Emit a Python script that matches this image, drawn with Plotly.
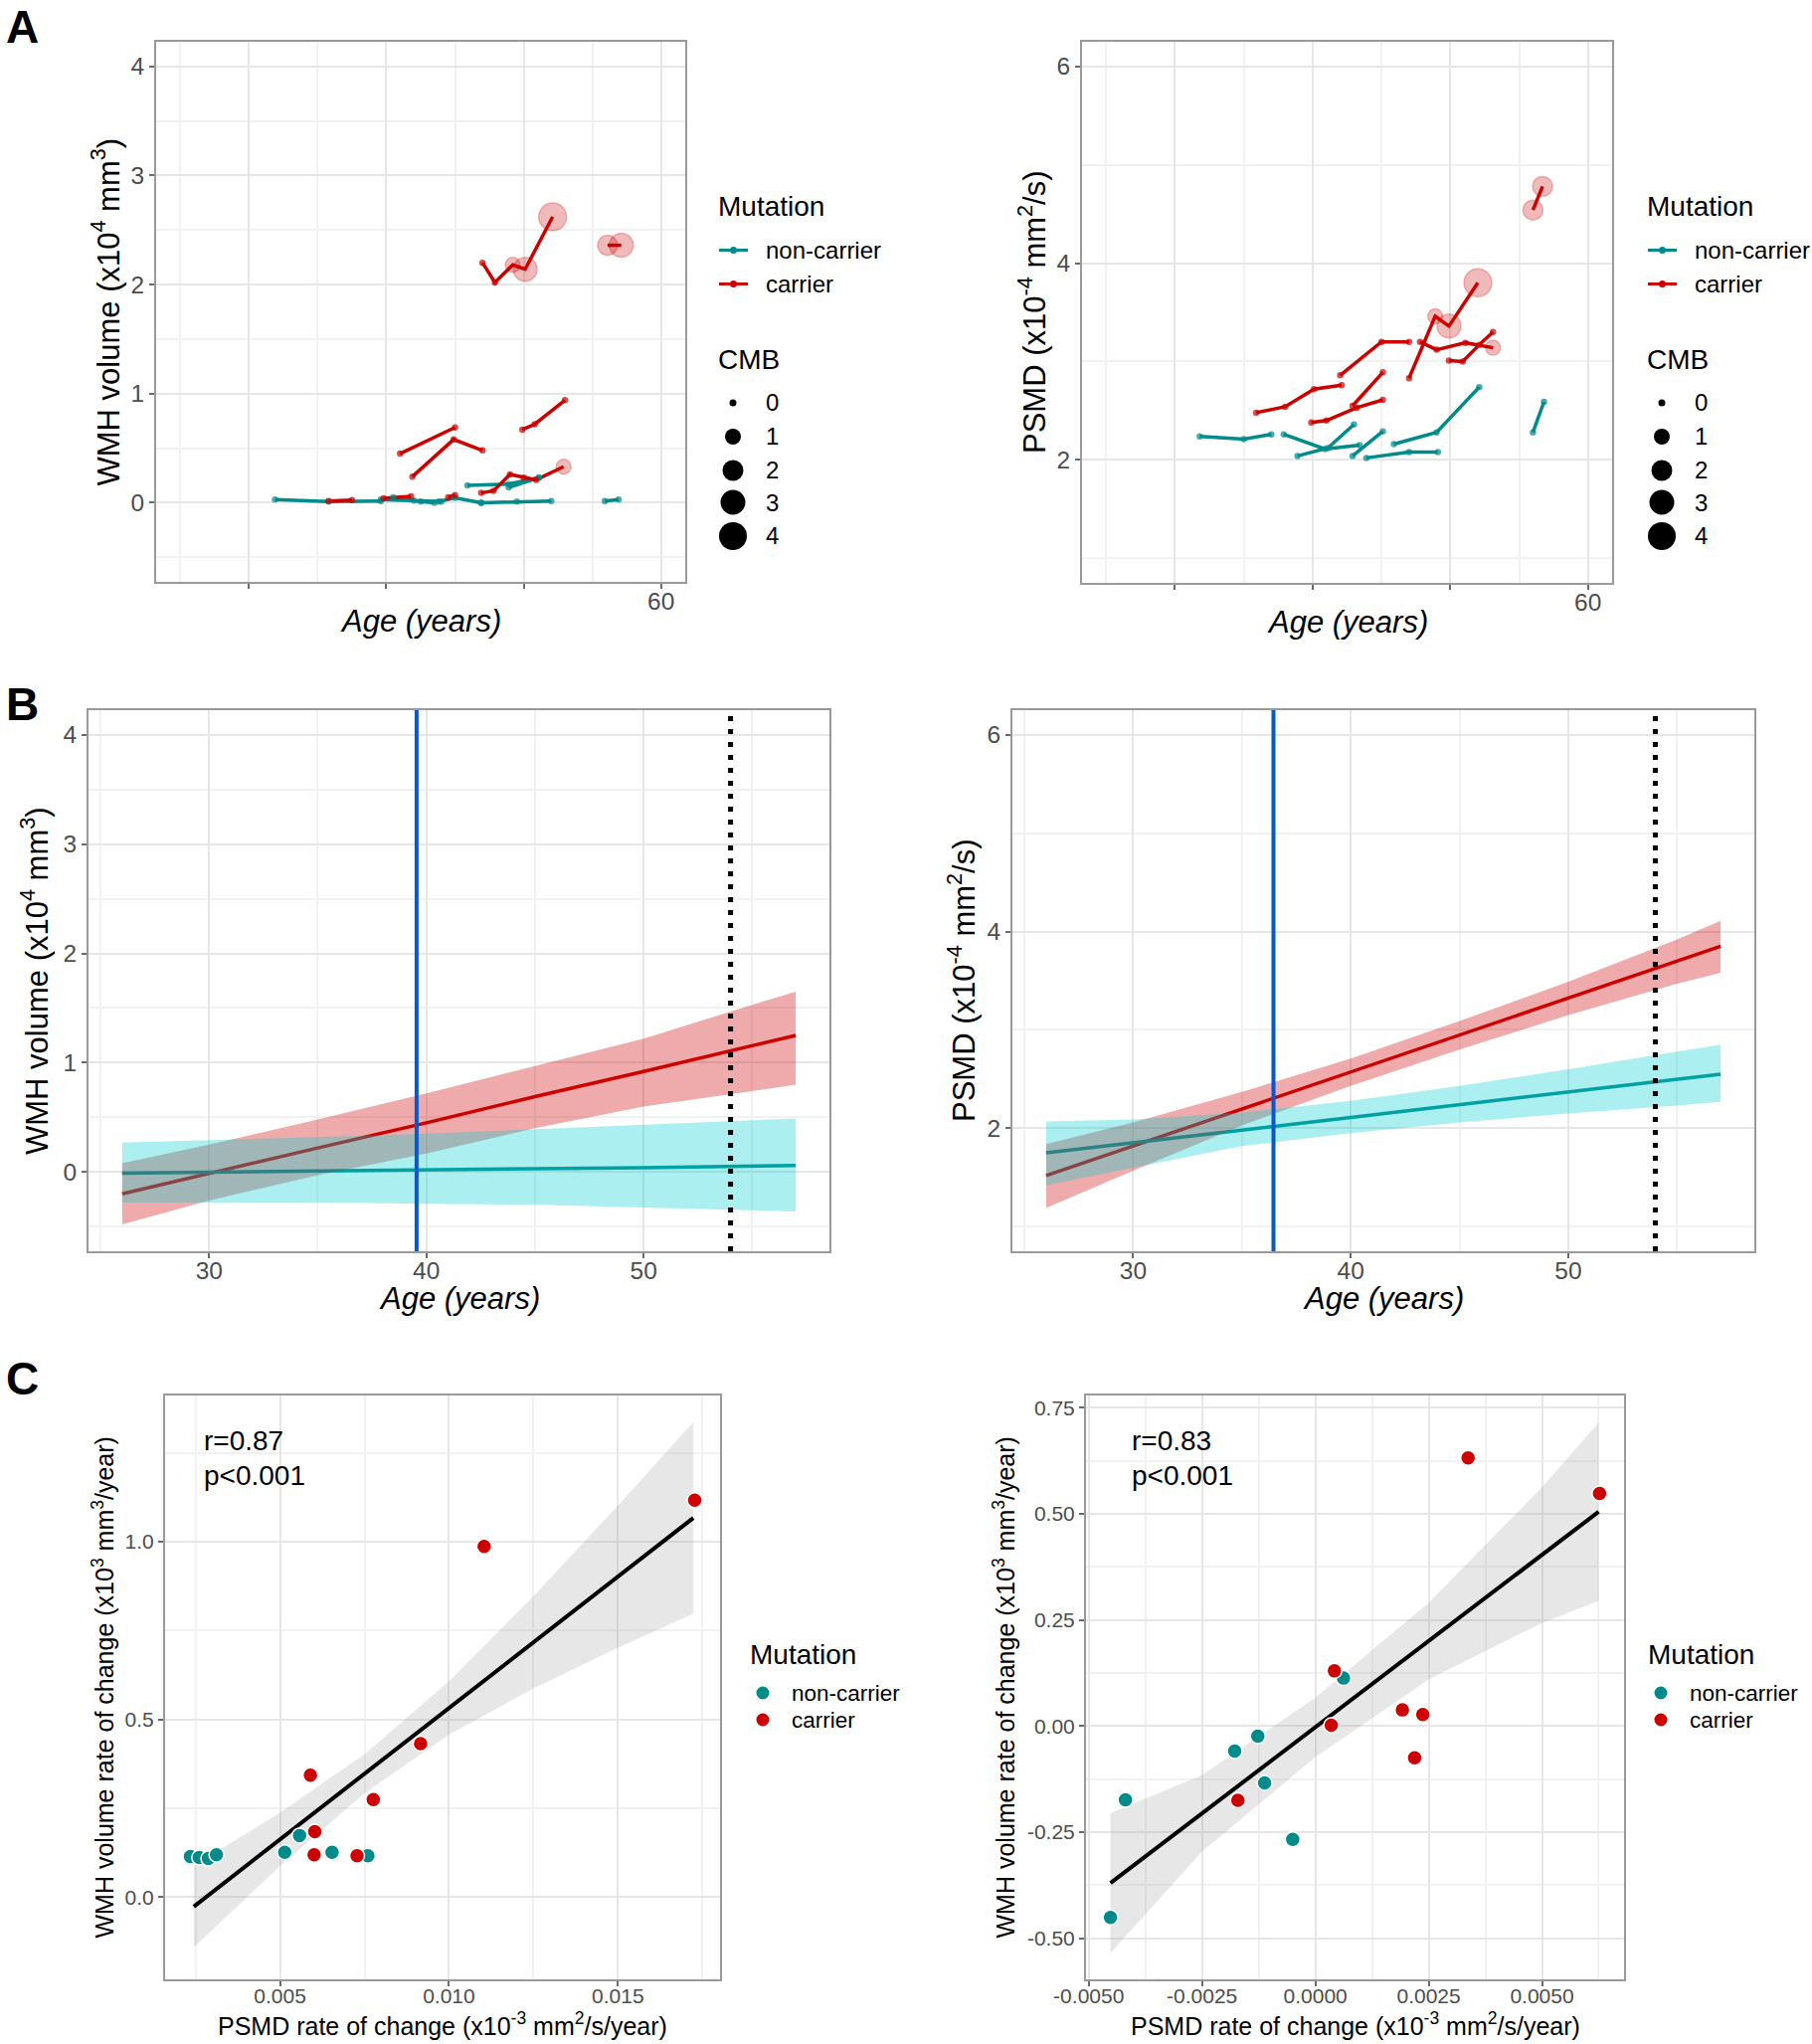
import plotly.graph_objects as go

# ======================= DATA =======================
mutation_labels = ["non-carrier", "carrier"]
cmb_levels = [0, 1, 2, 3, 4]

# ---- Panel A, left: WMH volume (x10^4 mm^3), one entry per subject ----
wmh_subj_mutation = [0, 0, 0, 0, 0, 0, 0, 0, 1, 1, 1, 1, 1, 1, 1, 1, 1]
wmh_subj_age = [
    [31.9, 35.8, 39.6], [39.6, 42.0, 44.0], [40.5, 42.5, 43.5], [43.8, 45.0, 46.9],
    [46.9, 49.5, 52.0], [45.9, 48.9, 51.1], [48.9, 51.1], [55.9, 56.9],
    [35.8, 37.5], [39.8, 41.8], [44.5, 45.0], [41.0, 45.0], [41.9, 44.9, 47.0],
    [49.9, 50.8, 53.0], [46.9, 47.8, 49.0, 50.0, 50.9, 52.9],
    [47.0, 47.9, 49.2, 50.1, 52.1], [56.1, 57.1],
]
wmh_subj_value = [
    [0.03, 0.01, 0.015], [0.03, 0.02, 0.01], [0.05, 0.01, 0.0], [0.01, 0.045, 0.0],
    [0.0, 0.01, 0.015], [0.16, 0.17, 0.23], [0.14, 0.23], [0.015, 0.03],
    [0.015, 0.024], [0.04, 0.06], [0.05, 0.07], [0.45, 0.69], [0.24, 0.58, 0.48],
    [0.67, 0.72, 0.94], [0.09, 0.11, 0.26, 0.23, 0.21, 0.33],
    [2.20, 2.02, 2.18, 2.14, 2.62], [2.36, 2.36],
]
wmh_subj_cmb = [
    [0, 0, 0], [0, 0, 0], [0, 0, 0], [0, 0, 0],
    [0, 0, 0], [0, 0, 0], [0, 0], [0, 0],
    [0, 0], [0, 0], [0, 0], [0, 0], [0, 0, 0],
    [0, 0, 0], [0, 0, 0, 0, 0, 1],
    [0, 0, 1, 3, 4], [2, 3],
]

# ---- Panel A, right: PSMD (x10^-4 mm^2/s), one entry per subject ----
psmd_subj_mutation = [0, 0, 0, 0, 0, 0, 0, 1, 1, 1, 1, 1, 1, 1, 1]
psmd_subj_age = [
    [31.8, 35.0, 37.0], [37.9, 40.9, 43.4], [38.9, 41.1, 43.0], [42.9, 45.1],
    [43.9, 47.0, 49.1], [45.9, 49.0, 52.1], [56.0, 56.8],
    [35.9, 38.0, 40.1, 42.1], [39.9, 41.0, 43.2, 45.1], [42.9, 45.1], [42.0, 45.0, 47.0],
    [47.8, 49.0, 51.1, 53.1], [49.9, 50.9, 52.1, 53.1], [47.0, 48.9, 49.9, 52.0], [56.0, 56.7],
]
psmd_subj_value = [
    [2.24, 2.21, 2.26], [2.26, 2.11, 2.15], [2.04, 2.12, 2.36], [2.04, 2.29],
    [2.02, 2.08, 2.08], [2.16, 2.28, 2.74], [2.28, 2.59],
    [2.48, 2.54, 2.72, 2.76], [2.38, 2.40, 2.53, 2.61], [2.55, 2.89], [2.86, 3.20, 3.20],
    [3.20, 3.12, 3.19, 3.14], [3.01, 3.00, 3.17, 3.30], [2.83, 3.46, 3.36, 3.80], [4.54, 4.78],
]
psmd_subj_cmb = [
    [0, 0, 0], [0, 0, 0], [0, 0, 0], [0, 0],
    [0, 0, 0], [0, 0, 0], [0, 0],
    [0, 0, 0, 0], [0, 0, 0, 0], [0, 0], [0, 0, 0],
    [0, 0, 0, 1], [0, 0, 0, 0], [0, 1, 3, 4], [2, 2],
]

# ---- Panel B: model fits with 95% CI ----
b_age = [26, 30, 35, 40, 45, 50, 55, 57]
b_wmh_carrier_fit = [-0.20, -0.01, 0.22, 0.45, 0.69, 0.92, 1.16, 1.25]
b_wmh_carrier_lo = [-0.48, -0.26, -0.03, 0.17, 0.40, 0.60, 0.74, 0.80]
b_wmh_carrier_hi = [0.08, 0.25, 0.48, 0.72, 0.97, 1.22, 1.53, 1.65]
b_wmh_noncarrier_fit = [-0.01, 0.0, 0.01, 0.02, 0.03, 0.04, 0.055, 0.06]
b_wmh_noncarrier_lo = [-0.28, -0.28, -0.28, -0.29, -0.30, -0.32, -0.35, -0.36]
b_wmh_noncarrier_hi = [0.27, 0.29, 0.32, 0.35, 0.39, 0.43, 0.47, 0.49]
b_psmd_carrier_fit = [1.52, 1.82, 2.20, 2.57, 2.95, 3.32, 3.70, 3.85]
b_psmd_carrier_lo = [1.19, 1.57, 2.03, 2.43, 2.80, 3.15, 3.47, 3.58]
b_psmd_carrier_hi = [1.84, 2.06, 2.37, 2.71, 3.09, 3.49, 3.92, 4.11]
b_psmd_noncarrier_fit = [1.75, 1.85, 1.98, 2.11, 2.24, 2.37, 2.50, 2.55]
b_psmd_noncarrier_lo = [1.42, 1.60, 1.82, 1.95, 2.06, 2.15, 2.23, 2.27]
b_psmd_noncarrier_hi = [2.07, 2.09, 2.16, 2.28, 2.43, 2.60, 2.78, 2.85]
b_divergence_age = [39.55, 36.45]   # WMH, PSMD
b_onset_age = 54.0

# ---- Panel C, left ----
c1_nc_psmd_rate = [0.00235, 0.00261, 0.00288, 0.00312, 0.00514, 0.00558, 0.00654, 0.0076]
c1_nc_wmh_rate = [0.114, 0.111, 0.108, 0.119, 0.126, 0.173, 0.126, 0.116]
c1_c_psmd_rate = [0.0059, 0.00603, 0.00601, 0.00728, 0.00776, 0.00916, 0.01104, 0.01727]
c1_c_wmh_rate = [0.343, 0.184, 0.119, 0.116, 0.274, 0.432, 0.987, 1.117]
c1_fit_x = [0.00245, 0.005, 0.0075, 0.010, 0.0125, 0.015, 0.01723]
c1_fit_y = [-0.027, 0.162, 0.347, 0.532, 0.717, 0.902, 1.067]
c1_fit_lo = [-0.142, 0.087, 0.292, 0.457, 0.587, 0.702, 0.797]
c1_fit_hi = [0.088, 0.237, 0.402, 0.607, 0.847, 1.102, 1.337]
c1_stats = ["r=0.87", "p<0.001"]

# ---- Panel C, right ----
c2_nc_psmd_rate = [-0.00452, -0.00419, -0.00178, -0.00127, -0.00112, -0.0005, 0.00062]
c2_nc_wmh_rate = [-0.451, -0.174, -0.059, -0.024, -0.134, -0.267, 0.113]
c2_c_psmd_rate = [-0.00171, 0.00035, 0.00042, 0.00192, 0.00237, 0.00219, 0.00337, 0.00627]
c2_c_wmh_rate = [-0.175, 0.002, 0.130, 0.038, 0.027, -0.075, 0.632, 0.548]
c2_fit_x = [-0.00452, -0.0025, 0.0, 0.0025, 0.005, 0.00625]
c2_fit_y = [-0.370, -0.206, -0.003, 0.200, 0.403, 0.505]
c2_fit_lo = [-0.535, -0.296, -0.073, 0.110, 0.243, 0.295]
c2_fit_hi = [-0.205, -0.116, 0.067, 0.290, 0.563, 0.715]
c2_stats = ["r=0.83", "p<0.001"]

# ---- axis ranges and tick values ----
A_AGE_RANGE = [23.25, 61.75]
B_AGE_RANGE = [24.45, 58.55]
WMH_RANGE = [-0.725, 4.225]
PSMD_RANGE = [0.75, 6.25]
C1_X_RANGE = [0.0016, 0.01802]
C1_Y_RANGE = [-0.232, 1.412]
C2_X_RANGE = [-0.00506, 0.00681]
C2_Y_RANGE = [-0.597, 0.779]

a_age_ticks = [30, 40, 50, 60]
a_age_labelled = [60]
age_minor = [25, 35, 45, 55]
b_age_ticks = [30, 40, 50]
wmh_ticks = [0, 1, 2, 3, 4]
wmh_minor = [-0.5, 0.5, 1.5, 2.5, 3.5]
psmd_ticks = [2, 4, 6]
psmd_minor = [1, 3, 5]
c1_x_ticks = [0.005, 0.010, 0.015]
c1_x_minor = [0.0025, 0.0075, 0.0125, 0.0175]
c1_y_ticks = [0.0, 0.5, 1.0]
c1_y_minor = [-0.25, 0.25, 0.75, 1.25]
c2_x_ticks = [-0.005, -0.0025, 0.0, 0.0025, 0.005]
c2_x_minor = [-0.00375, -0.00125, 0.00125, 0.00375, 0.00625]
c2_y_ticks = [-0.5, -0.25, 0.0, 0.25, 0.5, 0.75]
c2_y_minor = [-0.375, -0.125, 0.125, 0.375, 0.625]

# ======================= STYLE =======================
W, H = 1822, 2055
FONT = "Liberation Sans, Arial, Helvetica, sans-serif"
TEAL = "#008B8B"
RED = "#CD0000"
MUT_COLORS = [TEAL, RED]
MUT_POINT_FILL = ["rgba(0,139,139,0.42)", "rgba(205,0,0,0.38)"]
CMB_SIZE_PX = [5, 15, 20, 24, 28]
LEG_CMB_PX = [7, 16, 21, 25, 28]
RIB_RED = "rgba(205,0,0,0.33)"
RIB_TEAL = "rgba(0,206,209,0.33)"
RIB_GREY = "rgba(160,160,160,0.25)"
BLUE = "#0b57c9"
FRAME_C = "#9a9a9a"
GRID = "#e6e6e6"
GRID_MINOR = "#f1f1f1"
TICK_C = "#4d4d4d"

FRAMES = {  # pixel boxes: left, top, right, bottom
    "a1": (157, 42, 689, 585),
    "a2": (1088, 42, 1621, 586),
    "b1": (89, 714, 834, 1258),
    "b2": (1018, 714, 1764, 1258),
    "c1": (166, 1403, 724, 1990),
    "c2": (1092, 1403, 1633, 1990),
}
AX_ID = {"a1": "", "a2": "2", "b1": "3", "b2": "4", "c1": "5", "c2": "6"}


def px(x):
    return x / W


def py(y):
    return 1 - y / H


def make_axis(key, horizontal, rng, tickvals, ticktext, minor_vals, tsize, labels=True):
    l, t, r, b = FRAMES[key]
    dom = [px(l), px(r)] if horizontal else [py(b), py(t)]
    other = ("y" if horizontal else "x") + AX_ID[key]
    return dict(
        domain=dom, range=rng, anchor=other, automargin=False,
        tickmode="array", tickvals=tickvals, ticktext=ticktext, showticklabels=labels,
        showline=True, mirror=True, linecolor=FRAME_C, linewidth=2,
        ticks="outside", ticklen=5, tickwidth=2, tickcolor="#6a6a6a",
        ticklabelstandoff=-8 if horizontal else 0,
        tickfont=dict(family=FONT, size=tsize, color=TICK_C),
        showgrid=True, gridcolor=GRID, gridwidth=2, zeroline=False,
        minor=dict(tickmode="array", tickvals=minor_vals, showgrid=True,
                   gridcolor=GRID_MINOR, gridwidth=1.5, ticks=""),
        fixedrange=True,
    )


fig = go.Figure()


def xy(key):
    return dict(xaxis="x" + AX_ID[key], yaxis="y" + AX_ID[key])


# ---------------- Panel A ----------------
def add_spaghetti(key, muts, ages, vals, cmbs):
    for m, a, v in zip(muts, ages, vals):
        fig.add_trace(go.Scatter(x=a, y=v, mode="lines", showlegend=False, hoverinfo="skip",
                                 line=dict(color=MUT_COLORS[m], width=3.5), **xy(key)))
    for g in (0, 1):
        xs, ys, ss, cs = [], [], [], []
        for m, a, v, c in zip(muts, ages, vals, cmbs):
            if m != g:
                continue
            xs += a
            ys += v
            ss += [CMB_SIZE_PX[k] for k in c]
            cs += [MUT_COLORS[g] if k == 0 else MUT_POINT_FILL[g] for k in c]
        fig.add_trace(go.Scatter(x=xs, y=ys, mode="markers", showlegend=False,
                                 marker=dict(size=ss, color=cs, line=dict(width=1.5, color=cs)),
                                 **xy(key)))


add_spaghetti("a1", wmh_subj_mutation, wmh_subj_age, wmh_subj_value, wmh_subj_cmb)
add_spaghetti("a2", psmd_subj_mutation, psmd_subj_age, psmd_subj_value, psmd_subj_cmb)


# ---------------- Panel B ----------------
def add_fits(key, fits, yrange, div_age):
    for fit, lo, hi, col, rib in fits:
        fig.add_trace(go.Scatter(x=b_age, y=fit, mode="lines", showlegend=False,
                                 line=dict(color=col, width=3.5), **xy(key)))
    for fit, lo, hi, col, rib in fits:
        fig.add_trace(go.Scatter(x=b_age + b_age[::-1], y=hi + lo[::-1], mode="lines",
                                 fill="toself", fillcolor=rib, line=dict(width=0),
                                 showlegend=False, hoverinfo="skip", **xy(key)))
    fig.add_trace(go.Scatter(x=[div_age, div_age], y=yrange, mode="lines", showlegend=False,
                             line=dict(color=BLUE, width=4), **xy(key)))
    fig.add_trace(go.Scatter(x=[b_onset_age, b_onset_age], y=yrange, mode="lines", showlegend=False,
                             line=dict(color="black", width=5, dash="5px,8px"), **xy(key)))


add_fits("b1", [
    (b_wmh_carrier_fit, b_wmh_carrier_lo, b_wmh_carrier_hi, RED, RIB_RED),
    (b_wmh_noncarrier_fit, b_wmh_noncarrier_lo, b_wmh_noncarrier_hi, TEAL, RIB_TEAL),
], WMH_RANGE, b_divergence_age[0])
add_fits("b2", [
    (b_psmd_carrier_fit, b_psmd_carrier_lo, b_psmd_carrier_hi, RED, RIB_RED),
    (b_psmd_noncarrier_fit, b_psmd_noncarrier_lo, b_psmd_noncarrier_hi, TEAL, RIB_TEAL),
], PSMD_RANGE, b_divergence_age[1])


# ---------------- Panel C ----------------
def add_corr(key, fx_, fy_, flo, fhi, ncx, ncy, cx, cy):
    fig.add_trace(go.Scatter(x=fx_ + fx_[::-1], y=fhi + flo[::-1], mode="lines", fill="toself",
                             fillcolor=RIB_GREY, line=dict(width=0), showlegend=False,
                             hoverinfo="skip", **xy(key)))
    fig.add_trace(go.Scatter(x=fx_, y=fy_, mode="lines", showlegend=False,
                             line=dict(color="black", width=4), **xy(key)))
    for i, (xs, ys) in enumerate(((ncx, ncy), (cx, cy))):
        fig.add_trace(go.Scatter(x=xs, y=ys, mode="markers", name=mutation_labels[i],
                                 showlegend=False,
                                 marker=dict(size=15, color=MUT_COLORS[i],
                                             line=dict(width=1.5, color="white")),
                                 **xy(key)))


add_corr("c1", c1_fit_x, c1_fit_y, c1_fit_lo, c1_fit_hi,
         c1_nc_psmd_rate, c1_nc_wmh_rate, c1_c_psmd_rate, c1_c_wmh_rate)
add_corr("c2", c2_fit_x, c2_fit_y, c2_fit_lo, c2_fit_hi,
         c2_nc_psmd_rate, c2_nc_wmh_rate, c2_c_psmd_rate, c2_c_wmh_rate)


def fmt(vals, nd):
    return [f"{v:.{nd}f}" for v in vals]


# ---------------- Axes ----------------
layout_axes = {
    "xaxis": make_axis("a1", True, A_AGE_RANGE, a_age_ticks, fmt(a_age_ticks, 0), age_minor, 24.5, labels=False),
    "yaxis": make_axis("a1", False, WMH_RANGE, wmh_ticks, fmt(wmh_ticks, 0), wmh_minor, 24.5),
    "xaxis2": make_axis("a2", True, A_AGE_RANGE, a_age_ticks, fmt(a_age_ticks, 0), age_minor, 24.5, labels=False),
    "yaxis2": make_axis("a2", False, PSMD_RANGE, psmd_ticks, fmt(psmd_ticks, 0), psmd_minor, 24.5),
    "xaxis3": make_axis("b1", True, B_AGE_RANGE, b_age_ticks, fmt(b_age_ticks, 0), age_minor, 24.5),
    "yaxis3": make_axis("b1", False, WMH_RANGE, wmh_ticks, fmt(wmh_ticks, 0), wmh_minor, 24.5),
    "xaxis4": make_axis("b2", True, B_AGE_RANGE, b_age_ticks, fmt(b_age_ticks, 0), age_minor, 24.5),
    "yaxis4": make_axis("b2", False, PSMD_RANGE, psmd_ticks, fmt(psmd_ticks, 0), psmd_minor, 24.5),
    "xaxis5": make_axis("c1", True, C1_X_RANGE, c1_x_ticks, fmt(c1_x_ticks, 3), c1_x_minor, 21),
    "yaxis5": make_axis("c1", False, C1_Y_RANGE, c1_y_ticks, fmt(c1_y_ticks, 1), c1_y_minor, 21),
    "xaxis6": make_axis("c2", True, C2_X_RANGE, c2_x_ticks, fmt(c2_x_ticks, 4), c2_x_minor, 21),
    "yaxis6": make_axis("c2", False, C2_Y_RANGE, c2_y_ticks, fmt(c2_y_ticks, 2), c2_y_minor, 21),
}

annotations = []
shapes = []


def text(x, y, s, size, xanchor="left", yanchor="middle", angle=0, color="#000000", xref="paper"):
    annotations.append(dict(x=x if xref != "paper" else px(x), y=py(y), xref=xref, yref="paper",
                            text=s, showarrow=False, xanchor=xanchor, yanchor=yanchor,
                            textangle=angle, font=dict(family=FONT, size=size, color=color)))


# Panel letters
text(4, 27, "<b>A</b>", 46)
text(4, 708, "<b>B</b>", 46)
text(4, 1386, "<b>C</b>", 46)

# The only labelled age tick in panel A (ticks at 30-50 carry no label in the original)
for key in ("a1", "a2"):
    l, t, r, b = FRAMES[key]
    for v in a_age_labelled:
        text(v, b + 19, str(v), 24.5, xanchor="center", color=TICK_C, xref="x" + AX_ID[key])

# Axis titles
AGE_T = "<i>Age (years)</i>"
WMH_T = "WMH volume (x10<sup>4</sup> mm<sup>3</sup>)"
PSMD_T = "PSMD (x10<sup>-4</sup> mm<sup>2</sup>/s)"
C_X_T = "PSMD rate of change (x10<sup>-3</sup> mm<sup>2</sup>/s/year)"
C_Y_T = "WMH volume rate of change (x10<sup>3</sup> mm<sup>3</sup>/year)"


def mid(a, b):
    return (a + b) / 2


for key, xt, yt, xoff, yoff, fs in (
    ("a1", AGE_T, WMH_T, 40, 51, 31),
    ("a2", AGE_T, PSMD_T, 40, 50, 31),
    ("b1", AGE_T, WMH_T, 47, 54, 31),
    ("b2", AGE_T, PSMD_T, 47, 51, 31),
    ("c1", C_X_T, C_Y_T, 45, 63, 25),
    ("c2", C_X_T, C_Y_T, 45, 83, 25),
):
    l, t, r, b = FRAMES[key]
    text(mid(l, r), b + xoff, xt, fs, xanchor="center")
    text(l - yoff, mid(t, b), yt, fs, xanchor="center", angle=-90)

# r / p statistics
for key, stats, dx in (("c1", c1_stats, 37), ("c2", c2_stats, 44)):
    l, t, r, b = FRAMES[key]
    text(l + dx, 1448, stats[0], 28)
    text(l + dx, 1483, stats[1].replace("<", "&lt;"), 28)


# Legends (ggplot style keys)
def circle(cx, cy, d, color):
    shapes.append(dict(type="circle", xref="paper", yref="paper",
                       x0=px(cx - d / 2), x1=px(cx + d / 2), y0=py(cy + d / 2), y1=py(cy - d / 2),
                       fillcolor=color, line=dict(width=0), layer="above"))


for base in (720, 1654):
    text(base, 207.5, "Mutation", 28)
    for i, yy in enumerate((251.5, 285.5)):
        shapes.append(dict(type="line", xref="paper", yref="paper", x0=px(base + 3), x1=px(base + 32),
                           y0=py(yy), y1=py(yy), line=dict(color=MUT_COLORS[i], width=3)))
        circle(base + 17.5, yy, 7, MUT_COLORS[i])
        text(base + 48, yy, mutation_labels[i], 24)
    text(base, 362, "CMB", 28)
    for lvl, yy in zip(cmb_levels, (405, 439, 473, 505, 539)):
        circle(base + 17, yy, LEG_CMB_PX[lvl], "#000000")
        text(base + 48, yy, str(lvl), 24)

for base in (752, 1655):
    text(base, 1663, "Mutation", 28)
    for i, yy in enumerate((1702, 1729)):
        circle(base + 15, yy, 13, MUT_COLORS[i])
        text(base + 42, yy, mutation_labels[i], 22.5)

fig.update_layout(
    width=W, height=H, margin=dict(l=0, r=0, t=0, b=0, autoexpand=False),
    paper_bgcolor="white", plot_bgcolor="white", showlegend=False,
    font=dict(family=FONT, color="#000000"),
    annotations=annotations, shapes=shapes, **layout_axes,
)

fig.write_html("out.html", config={"displayModeBar": False},
               post_script="document.body.style.margin='0';")
